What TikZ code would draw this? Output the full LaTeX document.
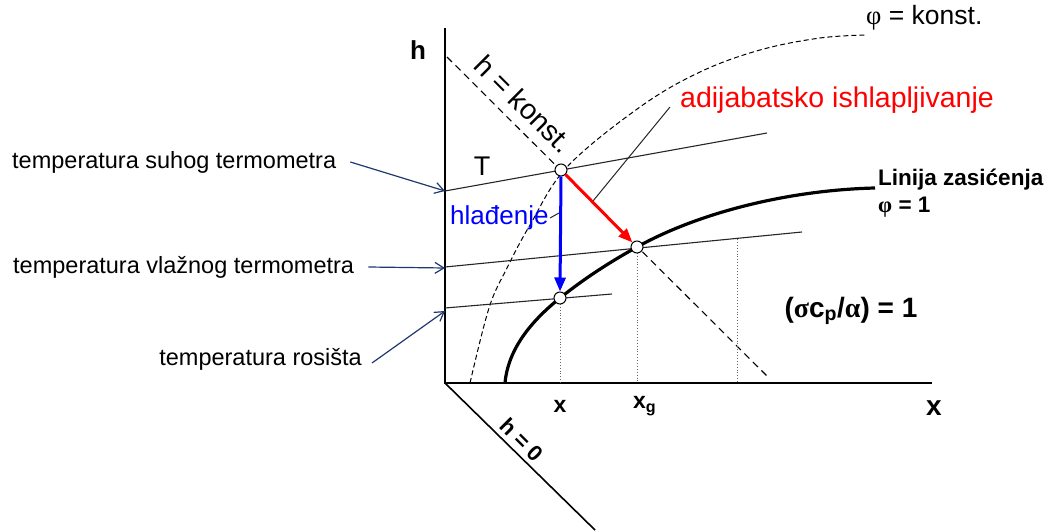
\documentclass[tikz,border=0pt]{standalone}
\usepackage{fontspec}
\setmainfont{Liberation Sans}
\newfontfamily\grk{Liberation Serif}
\usetikzlibrary{arrows.meta}
\newcommand\myfs[1]{\fontsize{#1}{#1}\selectfont}
\definecolor{navy}{RGB}{31,56,110}
\definecolor{myblue}{RGB}{0,0,255}
\definecolor{myred}{RGB}{255,0,0}
\tikzset{
  axis/.style={line width=2.4pt,black},
  iso/.style={line width=1.1pt,black!85},
  dotv/.style={line width=0.9pt,black!60,dotted},
  pt/.style={circle,draw=black,fill=white,line width=1pt,minimum size=12pt,inner sep=0pt},
  lbl/.style={inner sep=0pt,anchor=center},
  ptr/.style={navy,line width=1.2pt,-{Straight Barb[length=9pt,width=11pt,line width=1.2pt]}},
  proc/.style={line width=3pt,-{Triangle[length=14pt,width=11pt]}},
}
\begin{document}
\begin{tikzpicture}[x=1pt,y=-1pt]
\useasboundingbox (0,0) rectangle (1047,532);
% coordinates
\coordinate (O) at (445,383);
\coordinate (Htop) at (445,28);
\coordinate (Xend) at (932,383);
\coordinate (H0end) at (595,530);
\coordinate (HKa) at (447,57);
\coordinate (HKb) at (768,377);
% axes
\draw[axis] (Htop) -- (O) -- (Xend);
\draw[line width=1.6pt] (O) -- (H0end);
% phi = konst curve
\draw[line width=1pt,dash pattern=on 5pt off 3pt] plot[smooth,tension=0.6] coordinates {(470,383) (489,308) (507,268) (530,225) (567,167) (640,107) (700,72) (760,50) (820,38) (867,35)};
% h = konst
\draw[line width=1.1pt,dash pattern=on 7pt off 5pt] (HKa) -- (HKb);
% isotherms
\coordinate (Ta) at (445,191); \coordinate (Tb) at (767,133);
\coordinate (Wa) at (445,267); \coordinate (Wb) at (802,232);
\coordinate (Da) at (445,308); \coordinate (Db) at (612,294);
\draw[iso] (Ta) -- (Tb);
\draw[iso] (Wa) -- (Wb);
\draw[iso] (Da) -- (Db);
% dotted verticals
\coordinate (v1t) at (560,298); \coordinate (v1b) at (560,383);
\coordinate (v2t) at (637,247); \coordinate (v2b) at (637,383);
\coordinate (v3t) at (737,239); \coordinate (v3b) at (737,383);
\draw[dotv] (v1t) -- (v1b);
\draw[dotv] (v2t) -- (v2b);
\draw[dotv] (v3t) -- (v3b);
% saturation line
\coordinate (S0) at (505,383);
\coordinate (S3) at (875,188);
\draw[line width=3.2pt] (S0) .. controls (508,350) and (530,322) .. (v1t)
  .. controls (585,278) and (610,262) .. (v2t)
  .. controls (700,212) and (790,190) .. (S3);
% pointer lines
\coordinate (pa1) at (670,107); \coordinate (pa2) at (593,201);
\draw[line width=1pt,black!85] (pa1) -- (pa2);
\coordinate (ph1) at (550,218); \coordinate (ph2) at (559,213);
\draw[line width=1pt,black!85] (ph1) -- (ph2);
% points
\node[pt] (T) at (561,170) {};
\node[pt] (W) at (637,247) {};
\node[pt] (D) at (560,298) {};
% process arrows
\draw[proc,myblue] (T.south) -- (D.north);
\draw[proc,myred] (T.-45) -- (W.135);
% labels
\node[lbl,font=\myfs{26}\bfseries] (hl) at (418,50) {h};
\node[lbl,font=\myfs{27}] (Tl) at (482,166) {T};
\node[lbl,font=\myfs{26},text=myblue,anchor=west] (cool) at (450,218) {hlađenje};
\node[lbl,font=\myfs{28.5},text=myred] (adi) at (837,100) {adijabatsko ishlapljivanje};
\node[lbl,font=\myfs{26.5},anchor=west] (phik) at (866,18) {{\grk φ} = konst.};
\node[lbl,font=\myfs{22.5}\bfseries,anchor=west] (lin) at (878,180) {Linija zasićenja};
\node[lbl,font=\myfs{22.5}\bfseries,anchor=west] (phi1) at (878,207) {{\grk φ} = 1};
\node[lbl,font=\myfs{28}\bfseries] (sig) at (851,311) {({\grk σ}c\textsubscript{p}/{\grk α}) = 1};
\node[lbl,font=\myfs{28}\bfseries] (xl) at (934,408) {x};
\node[lbl,font=\myfs{23}\bfseries] (x1) at (560,406) {x};
\node[lbl,font=\myfs{23}\bfseries,anchor=west] (xg) at (633,406) {x\textsubscript{g}};
\node[lbl,font=\myfs{28.5},rotate=-45] (hk) at (524,104) {h = konst.};
\node[lbl,font=\myfs{22}\bfseries,rotate=-45] (h0) at (522,440) {h = 0};
\node[lbl,font=\myfs{23.5},anchor=west] (l1) at (12,162) {temperatura suhog termometra};
\node[lbl,font=\myfs{23.5},anchor=west] (l2) at (13,267) {temperatura vlažnog termometra};
\node[lbl,font=\myfs{23.5},anchor=east] (l3) at (362,359) {temperatura rosišta};
% left pointers
\coordinate (a1) at (445,191);
\coordinate (a2) at (445,268);
\coordinate (a3) at (445,311);
\draw[ptr] ([xshift=14pt]l1.east) -- (a1);
\draw[ptr] ([xshift=14pt]l2.east) -- (a2);
\draw[ptr] ([xshift=10pt,yshift=-4pt]l3.east) -- (a3);
\end{tikzpicture}
\end{document}
